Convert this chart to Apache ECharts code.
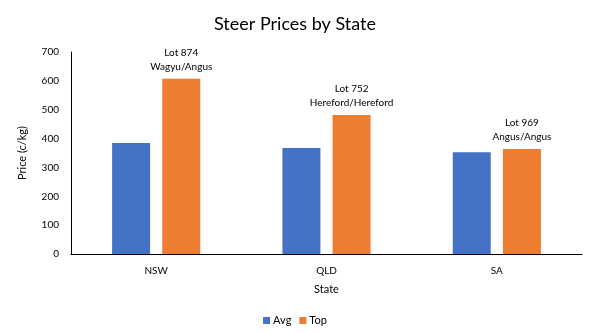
<!DOCTYPE html>
<html><head><meta charset="utf-8">
<script src="https://cdn.jsdelivr.net/npm/echarts@6/dist/echarts.min.js"></script>
<style>html,body{margin:0;padding:0;background:#fff}#c{width:590px;height:333px}</style>
</head><body><div id="c"></div>
<script>
var categories = ['NSW', 'QLD', 'SA'];
var avgValues = [385, 367, 353];
var topValues = [607, 482, 364];
var topLabels = ['Lot 874\nWagyu/Angus', 'Lot 752\nHereford/Hereford', 'Lot 969\nAngus/Angus'];
var yTicks = [0, 100, 200, 300, 400, 500, 600, 700];

var FONT = 'Lato';
var chart = echarts.init(document.getElementById('c'));
chart.setOption({
  animation: false,
  textStyle: {fontFamily: FONT},
  title: {text: 'Steer Prices by State', left: 'center', top: 10,
    textStyle: {fontFamily: FONT, fontSize: 18, fontWeight: 'normal', color: '#000'}},
  grid: {left: 71, right: 8, top: 52, bottom: 79},
  legend: {bottom: 2, left: 'center', itemWidth: 7, itemHeight: 7, itemGap: 8,
    icon: 'rect', textStyle: {fontFamily: FONT, fontSize: 11, color: '#000', padding: [0, 0, 0, -2]}},
  xAxis: {type: 'category', data: categories, name: 'State', nameLocation: 'middle', nameGap: 30,
    nameTextStyle: {fontFamily: FONT, fontSize: 11, color: '#000'},
    axisLine: {lineStyle: {color: '#000', width: 1}}, axisTick: {show: false},
    axisLabel: {fontFamily: FONT, fontSize: 10, color: '#000', margin: 12}},
  yAxis: {type: 'value', min: yTicks[0], max: yTicks[yTicks.length - 1], interval: 100,
    name: 'Price (c/kg)', nameLocation: 'middle', nameGap: 43,
    nameTextStyle: {fontFamily: FONT, fontSize: 11, color: '#000'},
    axisLine: {show: true, lineStyle: {color: '#000', width: 1}}, axisTick: {show: false},
    splitLine: {show: false},
    axisLabel: {fontFamily: FONT, fontSize: 10, color: '#000', margin: 12}},
  series: [
    {name: 'Avg', type: 'bar', data: avgValues, barWidth: 38, barGap: '32%',
      itemStyle: {color: '#4472C4'}},
    {name: 'Top', type: 'bar', data: topValues, barWidth: 38,
      itemStyle: {color: '#ED7D31'},
      label: {show: true, position: 'top', distance: 5, lineHeight: 14,
        fontFamily: FONT, fontSize: 10, color: '#000',
        formatter: function (p) { return topLabels[p.dataIndex]; }}}
  ]
});
</script></body></html>
